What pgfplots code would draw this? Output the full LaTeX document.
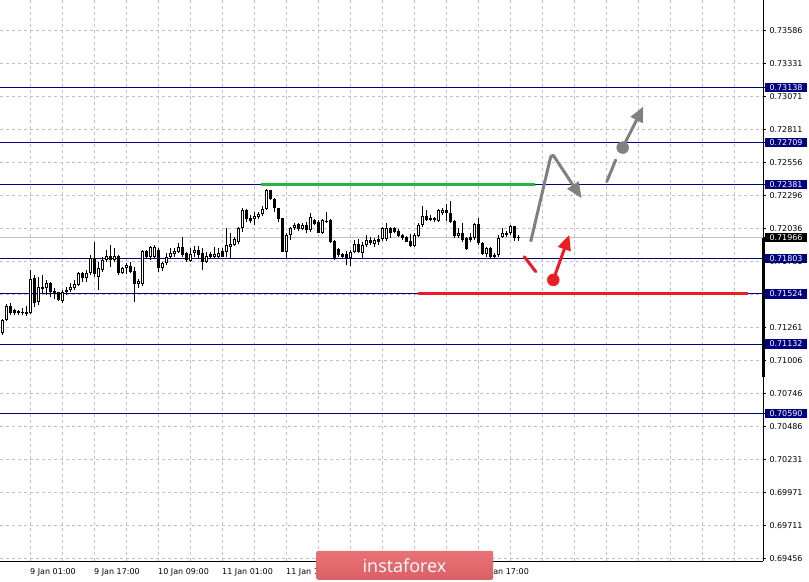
\documentclass[border=0pt]{standalone}
\usepackage{pgfplots}
\pgfplotsset{compat=1.18}
\usepackage{pgfplotstable}
\usepackage{fontspec}
\setmainfont{DejaVu Sans}
\newfontfamily\logofont{Open Sans}
\usetikzlibrary{arrows.meta}
\definecolor{navy}{RGB}{0,0,128}
\definecolor{gridc}{RGB}{192,192,192}
\definecolor{lvlgreen}{RGB}{40,178,72}
\definecolor{lvlred}{RGB}{237,28,36}
\definecolor{arrgray}{RGB}{128,128,128}
\definecolor{logotop}{RGB}{234,114,118}
\definecolor{logobot}{RGB}{218,96,101}
\newcommand{\plainlbl}[1]{\hspace{4.3bp}#1}
\newcommand{\boxlbl}[2]{{\setlength{\fboxsep}{1.6bp}\colorbox{#1}{\hspace{2.7bp}\textcolor{white}{#2}\hspace{3bp}}}}
\pgfplotstableread{
k O H L C
0 0.71216 0.71328 0.71203 0.71320
1 0.71320 0.71446 0.71313 0.71430
2 0.71430 0.71453 0.71360 0.71376
3 0.71399 0.71407 0.71360 0.71376
4 0.71389 0.71399 0.71360 0.71373
5 0.71373 0.71412 0.71360 0.71381
6 0.71386 0.71430 0.71354 0.71371
7 0.71373 0.71712 0.71368 0.71639
8 0.71647 0.71673 0.71425 0.71451
9 0.71464 0.71659 0.71438 0.71581
10 0.71563 0.71673 0.71529 0.71581
11 0.71569 0.71634 0.71516 0.71608
12 0.71612 0.71620 0.71503 0.71537
13 0.71547 0.71571 0.71485 0.71529
14 0.71537 0.71542 0.71469 0.71477
15 0.71469 0.71555 0.71451 0.71537
16 0.71537 0.71581 0.71516 0.71555
17 0.71555 0.71608 0.71542 0.71581
18 0.71569 0.71634 0.71555 0.71600
19 0.71595 0.71698 0.71589 0.71686
20 0.71691 0.71698 0.71620 0.71647
21 0.71647 0.71712 0.71620 0.71691
22 0.71686 0.71829 0.71673 0.71804
23 0.71804 0.71933 0.71659 0.71678
24 0.71659 0.71777 0.71555 0.71725
25 0.71712 0.71816 0.71698 0.71790
26 0.71790 0.71869 0.71777 0.71822
27 0.71822 0.71908 0.71738 0.71790
28 0.71790 0.71882 0.71777 0.71822
29 0.71822 0.71829 0.71673 0.71686
30 0.71686 0.71738 0.71681 0.71730
31 0.71725 0.71764 0.71678 0.71751
32 0.71743 0.71775 0.71688 0.71698
33 0.71704 0.71735 0.71461 0.71602
34 0.71602 0.71641 0.71571 0.71626
35 0.71600 0.71869 0.71587 0.71861
36 0.71861 0.71869 0.71804 0.71816
37 0.71816 0.71900 0.71790 0.71890
38 0.71816 0.71908 0.71804 0.71894
39 0.71869 0.71882 0.71698 0.71725
40 0.71725 0.71777 0.71704 0.71764
41 0.71764 0.71843 0.71751 0.71816
42 0.71816 0.71882 0.71804 0.71847
43 0.71835 0.71882 0.71816 0.71861
44 0.71855 0.71921 0.71843 0.71894
45 0.71890 0.71968 0.71816 0.71829
46 0.71843 0.71855 0.71777 0.71790
47 0.71782 0.71882 0.71775 0.71835
48 0.71843 0.71902 0.71816 0.71869
49 0.71869 0.71902 0.71804 0.71829
50 0.71843 0.71882 0.71712 0.71777
51 0.71772 0.71853 0.71764 0.71824
52 0.71816 0.71855 0.71804 0.71835
53 0.71816 0.71894 0.71804 0.71837
54 0.71816 0.71882 0.71806 0.71843
55 0.71861 0.71884 0.71814 0.71816
56 0.71855 0.72043 0.71816 0.71908
57 0.71894 0.71999 0.71804 0.71915
58 0.71908 0.71970 0.71900 0.71953
59 0.71933 0.72051 0.71915 0.72038
60 0.72038 0.72195 0.72012 0.72182
61 0.72182 0.72190 0.72088 0.72109
62 0.72121 0.72143 0.72077 0.72096
63 0.72109 0.72168 0.72064 0.72137
64 0.72125 0.72168 0.72111 0.72150
65 0.72148 0.72210 0.72135 0.72187
66 0.72187 0.72344 0.72182 0.72338
67 0.72338 0.72338 0.72259 0.72265
68 0.72265 0.72273 0.72168 0.72195
69 0.72195 0.72195 0.72088 0.72109
70 0.72117 0.72117 0.71853 0.71855
71 0.71855 0.71999 0.71804 0.71986
72 0.71986 0.72051 0.71947 0.72038
73 0.72038 0.72082 0.72025 0.72064
74 0.72072 0.72082 0.72020 0.72030
75 0.72030 0.72077 0.72025 0.72064
76 0.72064 0.72090 0.71999 0.72025
77 0.72025 0.72161 0.72012 0.72129
78 0.72103 0.72109 0.72064 0.72070
79 0.72090 0.72103 0.71999 0.72004
80 0.72004 0.72109 0.71994 0.72103
81 0.72085 0.72168 0.72077 0.72098
82 0.72103 0.72109 0.71921 0.71933
83 0.71939 0.71947 0.71790 0.71796
84 0.71876 0.71886 0.71816 0.71829
85 0.71837 0.71847 0.71804 0.71811
86 0.71835 0.71861 0.71751 0.71804
87 0.71804 0.71869 0.71743 0.71855
88 0.71855 0.71947 0.71843 0.71915
89 0.71915 0.71953 0.71847 0.71855
90 0.71847 0.71933 0.71804 0.71908
91 0.71908 0.71986 0.71894 0.71947
92 0.71947 0.71973 0.71908 0.71921
93 0.71915 0.71960 0.71894 0.71947
94 0.71957 0.71986 0.71908 0.71931
95 0.71953 0.72051 0.71941 0.72043
96 0.71953 0.72082 0.71941 0.72043
97 0.72043 0.72051 0.71960 0.72004
98 0.72038 0.72051 0.71999 0.72012
99 0.72020 0.72033 0.71973 0.71980
100 0.71986 0.71994 0.71947 0.71960
101 0.71973 0.71980 0.71928 0.71933
102 0.71939 0.71991 0.71894 0.71902
103 0.71902 0.71999 0.71894 0.71986
104 0.71980 0.72082 0.71973 0.72064
105 0.72064 0.72213 0.72051 0.72135
106 0.72135 0.72182 0.72096 0.72103
107 0.72121 0.72143 0.72096 0.72103
108 0.72121 0.72129 0.72090 0.72103
109 0.72098 0.72187 0.72090 0.72182
110 0.72156 0.72195 0.72143 0.72182
111 0.72182 0.72226 0.72096 0.72156
112 0.72156 0.72252 0.72077 0.72090
113 0.72096 0.72103 0.71960 0.71978
114 0.71978 0.72038 0.71966 0.72004
115 0.71999 0.72077 0.71933 0.71947
116 0.71966 0.71973 0.71869 0.71876
117 0.71973 0.71999 0.71928 0.71947
118 0.71960 0.72077 0.71947 0.72070
119 0.72070 0.72117 0.71908 0.71921
120 0.71925 0.71933 0.71829 0.71837
121 0.71837 0.71894 0.71816 0.71882
122 0.71882 0.71894 0.71796 0.71816
123 0.71829 0.71843 0.71796 0.71811
124 0.71829 0.71986 0.71816 0.71960
125 0.71973 0.72038 0.71960 0.72004
126 0.71986 0.72017 0.71973 0.72004
127 0.71999 0.72064 0.71986 0.72056
128 0.72056 0.72056 0.71941 0.71960
129 0.71970 0.71986 0.71941 0.71966
}\candles
\begin{document}
\begin{tikzpicture}
\begin{axis}[
  at={(0,0)}, anchor=south west,
  scale only axis, width=763bp, height=561bp,
  xmin=-0.675, xmax=190.075, ymin=0.694334, ymax=0.73826,
  clip=false,
  axis x line*=bottom, axis y line*=right,
  axis line style={black, line width=1bp},
  xtick={-9,7,23,39,55,71,87,103,119},
  xticklabels={8 Jan 09:00, 9 Jan 01:00, 9 Jan 17:00, 10 Jan 09:00, 11 Jan 01:00, 11 Jan 17:00, 14 Jan 09:00, 15 Jan 01:00, 15 Jan 17:00},
  minor xtick={-1,7,...,183},
  xtick style={draw=none}, minor tick length=0bp,
  xmajorgrids=false, xminorgrids=true,
  ytick={0.73586,0.73331,0.73071,0.72811,0.72556,0.72296,0.72036,0.71781,0.71521,0.71261,0.71006,0.70746,0.70486,0.70231,0.69971,0.69711,0.69456},
  yticklabels={\plainlbl{0.73586},\plainlbl{0.73331},\plainlbl{0.73071},\plainlbl{0.72811},\plainlbl{0.72556},\plainlbl{0.72296},\plainlbl{0.72036},\plainlbl{0.71781},\plainlbl{0.71521},\plainlbl{0.71261},\plainlbl{0.71006},\plainlbl{0.70746},\plainlbl{0.70486},\plainlbl{0.70231},\plainlbl{0.69971},\plainlbl{0.69711},\plainlbl{0.69456}},
  ymajorgrids=true,
  scaled y ticks=false,
  tick align=outside, major tick length=3bp,
  ytick style={black, line width=1bp},
  grid style={gridc, line width=1bp, dash pattern=on 3bp off 3bp},
  minor grid style={gridc, line width=1bp, dash pattern=on 3bp off 3bp},
  major grid style={gridc, line width=1bp, dash pattern=on 3bp off 3bp},
  extra y ticks={0.73138,0.72709,0.72381,0.71966,0.71803,0.71524,0.71132,0.70590},
  extra y tick labels={\boxlbl{navy}{0.73138},\boxlbl{navy}{0.72709},\boxlbl{navy}{0.72381},\boxlbl{black}{0.71966},\boxlbl{navy}{0.71803},\boxlbl{navy}{0.71524},\boxlbl{navy}{0.71132},\boxlbl{navy}{0.70590}},
  extra y tick style={grid=none},
  ticklabel style={font=\fontsize{8bp}{9bp}\selectfont, inner sep=0bp, text=black},
  yticklabel style={anchor=west, xshift=-1bp},
  xticklabel style={anchor=north west, yshift=-4.8bp, xshift=-0.7bp},
]
% levels
\addplot[navy, line width=1bp] coordinates {(-0.675,0.73138) (190.075,0.73138)};
\addplot[navy, line width=1bp] coordinates {(-0.675,0.72709) (190.075,0.72709)};
\addplot[navy, line width=1bp] coordinates {(-0.675,0.72381) (190.075,0.72381)};
\addplot[navy, line width=1bp] coordinates {(-0.675,0.71803) (190.075,0.71803)};
\addplot[navy, line width=1bp] coordinates {(-0.675,0.71524) (190.075,0.71524)};
\addplot[navy, line width=1bp] coordinates {(-0.675,0.71132) (190.075,0.71132)};
\addplot[navy, line width=1bp] coordinates {(-0.675,0.70590) (190.075,0.70590)};
\addplot[gridc, line width=1bp] coordinates {(-0.675,0.71966) (190.075,0.71966)};
% wicks
\addplot[draw=none, mark=none, error bars/.cd, y dir=plus, y explicit, error mark=none,
  error bar style={draw=black, line width=1bp}]
  table[x=k, y=L, y error plus expr={\thisrow{H}-\thisrow{L}}] {\candles};
% bodies
\addplot[draw=none, mark=none, error bars/.cd, y dir=plus, y explicit, error mark=none,
  error bar style={draw=black, line width=3bp}]
  table[x=k, y expr={min(\thisrow{O},\thisrow{C})}, y error plus expr={abs(\thisrow{C}-\thisrow{O})}] {\candles};
\addplot[draw=none, mark=none, error bars/.cd, y dir=plus, y explicit, error mark=none,
  error bar style={draw=white, line width=1bp, shorten <=1bp, shorten >=1bp}]
  table[x=k, y expr={(\thisrow{C}-\thisrow{O}>0.0002)?\thisrow{O}:nan}, y error plus expr={\thisrow{C}-\thisrow{O}}] {\candles};
% analysis
\addplot[lvlgreen, line width=3bp] coordinates {(64.575,0.72381) (133.075,0.72381)};
\addplot[lvlred, line width=3bp] coordinates {(103.8,0.71528) (186.3,0.71528)};
\addplot[lvlred, line width=3bp, line cap=round] coordinates {(130.4,0.71816) (133.25,0.71699)};
\addplot[lvlred, line width=3bp, -{Triangle[length=15bp,width=13bp]}] coordinates {(137.65,0.71634) (141.65,0.71986)};
\addplot[lvlred, only marks, mark=*, mark size=6bp, mark options={draw=lvlred, fill=lvlred}] coordinates {(137.65,0.71634)};
\addplot[arrgray, line width=3bp, line join=round, -{Triangle[length=16bp,width=13bp]}] coordinates {(132.0,0.71934) (137.0,0.72599) (137.65,0.72610) (144.75,0.72273)};
\addplot[arrgray, line width=3bp, line cap=round] coordinates {(151.0,0.72403) (153.25,0.72573)};
\addplot[arrgray, line width=3bp, -{Triangle[length=15bp,width=13bp]}] coordinates {(155.0,0.72670) (160.15,0.72991)};
\addplot[arrgray, only marks, mark=*, mark size=6bp, mark options={draw=arrgray, fill=arrgray}] coordinates {(155.0,0.72670)};
\addplot[black, line width=3bp] coordinates {(190.075,0.71966) (190.075,0.70874)};
\end{axis}
\node[rounded corners=2bp, top color=logotop, bottom color=logobot, minimum width=177bp, minimum height=29bp, inner sep=0pt, anchor=south west] at (316bp,-19bp) {};
\node[text=white, inner sep=0pt, anchor=base, font=\logofont\fontsize{18bp}{18bp}\selectfont] at (404.5bp,-11.7bp) {instaforex};
\pgfresetboundingbox
\path[use as bounding box] (0bp,-21bp) rectangle (809bp,561bp);
\end{tikzpicture}
\end{document}
